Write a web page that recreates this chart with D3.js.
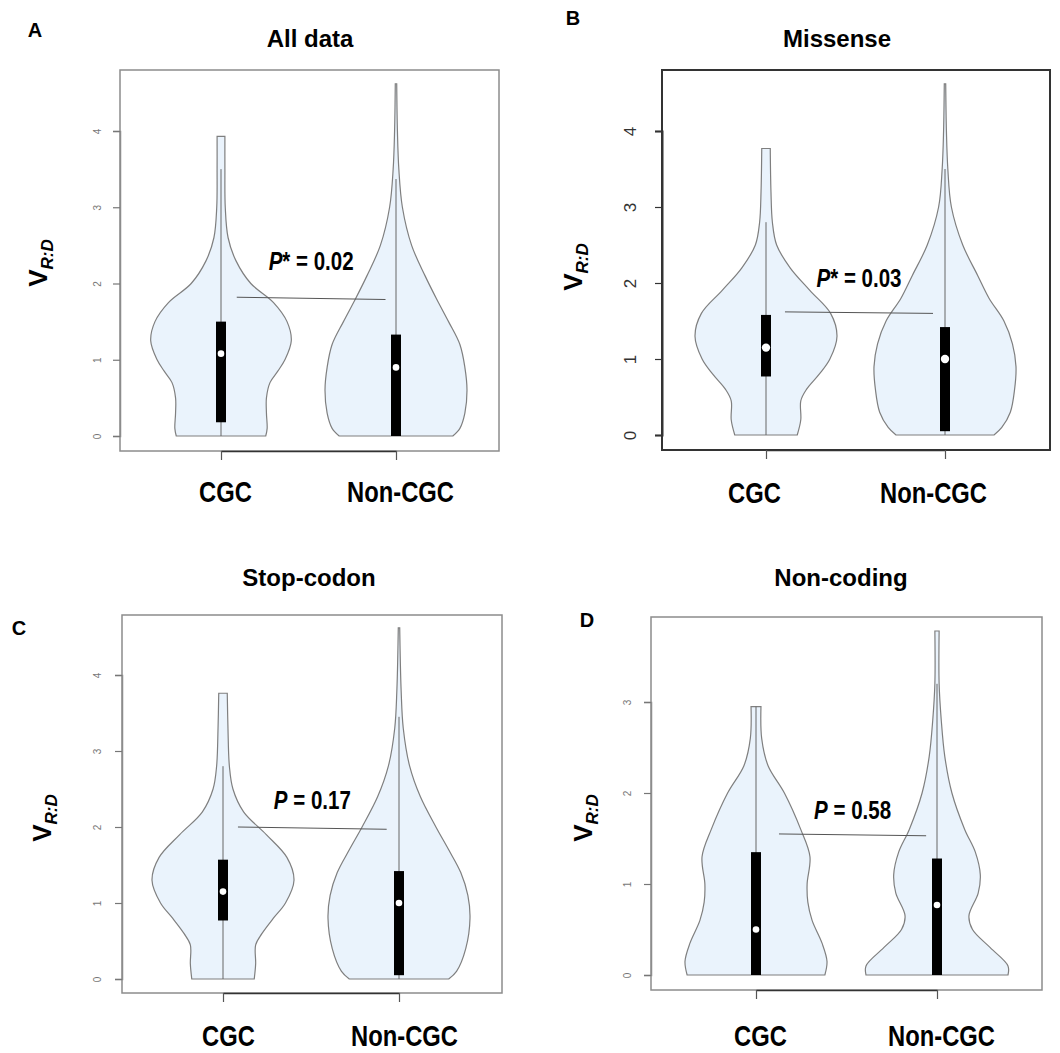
<!DOCTYPE html>
<html>
<head>
<meta charset="utf-8">
<title>VR:D violin plots</title>
<script src="https://d3js.org/d3.v7.min.js"></script>
<style>
    body { margin: 0; background: #fff; }
    text { font-family: "Liberation Sans", Arial, sans-serif; }
</style>
</head>
<body>
<script>
// ---- data ----
const categories = ["CGC", "Non-CGC"];
const panelTitles = ["All data", "Missense", "Stop-codon", "Non-coding"];
const panelLetters = ["A", "B", "C", "D"];
const pNames = ["P", "P", "P", "P"];
const pStars = ["*", "*", "", ""];
const pValues = ["0.02", "0.03", "0.17", "0.58"];

const yTicksA = [0, 1, 2, 3, 4];
const yTicksB = [0, 1, 2, 3, 4];
const yTicksC = [0, 1, 2, 3, 4];
const yTicksD = [0, 1, 2, 3];

// violin outlines: [value, relative half width]
const allCgc = [[0, 0.63], [0.1, 0.65], [0.3, 0.64], [0.5, 0.64], [0.7, 0.69], [0.85, 0.8], [1.0, 0.9], [1.25, 0.99],
    [1.5, 0.93], [1.75, 0.74], [2.0, 0.42], [2.3, 0.21], [2.6, 0.1], [3.0, 0.06], [3.5, 0.055], [3.93, 0.055]];
const allNon = [[0, 0.8], [0.1, 0.9], [0.3, 0.97], [0.6, 1.0], [0.9, 0.97], [1.2, 0.9], [1.5, 0.74], [1.8, 0.57],
    [2.1, 0.41], [2.5, 0.22], [3.0, 0.09], [3.5, 0.04], [4.0, 0.02], [4.62, 0.01]];
const misCgc = [[0, 0.44], [0.2, 0.49], [0.45, 0.49], [0.6, 0.57], [0.8, 0.75], [1.0, 0.9], [1.3, 1.0], [1.6, 0.91],
    [1.9, 0.62], [2.2, 0.34], [2.5, 0.15], [2.8, 0.09], [3.2, 0.07], [3.77, 0.06]];
const misNon = [[0, 0.69], [0.1, 0.8], [0.3, 0.92], [0.6, 0.98], [0.9, 1.0], [1.2, 0.95], [1.5, 0.83], [1.8, 0.62],
    [2.1, 0.46], [2.5, 0.25], [3.0, 0.09], [3.5, 0.04], [4.0, 0.02], [4.62, 0.01]];
const stopCgc = [[0, 0.44], [0.2, 0.46], [0.45, 0.46], [0.6, 0.55], [0.8, 0.71], [1.0, 0.88], [1.3, 1.0], [1.6, 0.9],
    [1.9, 0.61], [2.2, 0.29], [2.5, 0.14], [2.8, 0.09], [3.3, 0.07], [3.76, 0.06]];
const stopNon = [[0, 0.7], [0.1, 0.81], [0.4, 0.94], [0.8, 1.0], [1.1, 0.97], [1.4, 0.87], [1.7, 0.7], [2.0, 0.52],
    [2.4, 0.3], [2.8, 0.15], [3.3, 0.06], [3.8, 0.03], [4.62, 0.01]];
const ncCgc = [[0, 0.97], [0.15, 1.0], [0.35, 0.93], [0.6, 0.79], [0.8, 0.73], [1.0, 0.72], [1.3, 0.76], [1.6, 0.63],
    [2.0, 0.4], [2.3, 0.17], [2.6, 0.08], [2.95, 0.07]];
const ncNon = [[0, 1.0], [0.1, 1.0], [0.3, 0.75], [0.5, 0.5], [0.65, 0.45], [0.9, 0.58], [1.1, 0.61], [1.35, 0.54],
    [1.6, 0.39], [2.0, 0.21], [2.4, 0.11], [2.8, 0.06], [3.2, 0.03], [3.78, 0.03]];

// box stats: [whisker low, q1, median, q3, whisker high]
const allStats = [[0, 0.18, 1.08, 1.5, 3.5], [0, 0, 0.9, 1.33, 3.37]];
const misStats = [[0, 0.77, 1.15, 1.58, 2.8], [0, 0.05, 1.0, 1.42, 3.5]];
const stopStats = [[0, 0.77, 1.15, 1.57, 2.8], [0, 0.05, 1.0, 1.42, 3.45]];
const ncStats = [[0, 0, 0.5, 1.35, 2.95], [0, 0, 0.77, 1.28, 3.2]];

// comparison line heights (left end, right end)
const pLineA = [1.82, 1.79];
const pLineB = [1.62, 1.6];
const pLineC = [2.0, 1.97];
const pLineD = [1.55, 1.53];

// ---- layout ----
const squeeze = 0.82;   // the figure's bold labels are condensed

const panels = [
    { violins: [allCgc, allNon], stats: allStats, ticks: yTicksA, pLine: pLineA, pTextV: 2.3,
      box: [120, 70, 499, 451], zero: 436, top: 131, cx: [221, 396], title: [310, 38], letter: [35, 30],
      yLab: [38, 263], tickLabX: 97, catY: 492, catDx: 4, pX: [0.09, 0.94], frame: "#8c8c8c", frameW: 1.5,
      tickFont: 10, tickCol: "#777" },
    { violins: [misCgc, misNon], stats: misStats, ticks: yTicksB, pLine: pLineB, pTextV: 2.07,
      box: [662, 70, 1050, 450], zero: 435, top: 131, cx: [766, 945], title: [837, 38], letter: [573, 18],
      yLab: [573, 267], tickLabX: 630, catY: 493, catDx: -12, pX: [0.106, 0.933], frame: "#333", frameW: 2,
      tickFont: 17, tickCol: "#333" },
    { violins: [stopCgc, stopNon], stats: stopStats, ticks: yTicksC, pLine: pLineC, pTextV: 2.36,
      box: [122, 615, 502, 993], zero: 979, top: 675, cx: [223, 399], title: [309, 577], letter: [19, 628],
      yLab: [42, 818], tickLabX: 97, catY: 1036, catDx: 5, pX: [0.085, 0.93], frame: "#8c8c8c", frameW: 1.5,
      tickFont: 10, tickCol: "#777" },
    { violins: [ncCgc, ncNon], stats: ncStats, ticks: yTicksD, pLine: pLineD, pTextV: 1.81,
      box: [651, 617, 1042, 990], zero: 975, top: 702, cx: [756, 937], title: [841, 577], letter: [587, 620],
      yLab: [583, 818], tickLabX: 627, catY: 1036, catDx: 4, pX: [0.127, 0.94], frame: "#8c8c8c", frameW: 1.5,
      tickFont: 10, tickCol: "#777" }
];

const width = 1060;
const height = 1053;

const svg = d3.select("body")
    .append("svg")
    .attr("width", width)
    .attr("height", height);

panels.forEach((p, i) => {
    const g = svg.append("g");
    const [bl, bt, br, bb] = p.box;
    const topTick = p.ticks[p.ticks.length - 1];

    const yScale = d3.scaleLinear().domain([0, topTick]).range([p.zero, p.top]);
    const xScale = d3.scalePoint().domain(categories).range(p.cx);
    const wScale = d3.scaleLinear().domain([0, 1]).range([0, 71]);
    // fraction along the line joining the two categories
    const fScale = d3.scaleLinear().domain([0, 1]).range(p.cx);

    // frame
    g.append("rect")
        .attr("x", bl).attr("y", bt)
        .attr("width", br - bl).attr("height", bb - bt)
        .attr("fill", "none")
        .attr("stroke", p.frame)
        .attr("stroke-width", p.frameW);

    // violins
    categories.forEach((c, j) => {
        const cx = xScale(c);
        const area = d3.area()
            .curve(d3.curveCatmullRom.alpha(0.5))
            .y(d => yScale(d[0]))
            .x0(d => cx - wScale(d[1]))
            .x1(d => cx + wScale(d[1]));
        g.append("path")
            .datum(p.violins[j])
            .attr("d", area)
            .attr("fill", "#eaf3fc")
            .attr("stroke", "#7f7f7f")
            .attr("stroke-width", 1.2);

        const s = p.stats[j];
        // whisker
        g.append("line")
            .attr("x1", cx).attr("x2", cx)
            .attr("y1", yScale(s[0])).attr("y2", yScale(s[4]))
            .attr("stroke", "#666")
            .attr("stroke-width", 1);
        // box
        g.append("rect")
            .attr("x", cx - 5)
            .attr("y", yScale(s[3]))
            .attr("width", 10)
            .attr("height", yScale(s[1]) - yScale(s[3]))
            .attr("fill", "#000");
        // median
        g.append("circle")
            .attr("cx", cx)
            .attr("cy", yScale(s[2]))
            .attr("r", i === 1 ? 4.2 : 3.3)
            .attr("fill", "#fff");
    });

    // comparison line
    g.append("line")
        .attr("x1", fScale(p.pX[0])).attr("x2", fScale(p.pX[1]))
        .attr("y1", yScale(p.pLine[0])).attr("y2", yScale(p.pLine[1]))
        .attr("stroke", "#555")
        .attr("stroke-width", 1);

    const pt = g.append("text")
        .attr("transform", `translate(${fScale((p.pX[0] + p.pX[1]) / 2)},${yScale(p.pTextV)}) scale(${squeeze},1)`)
        .attr("dy", "0.36em")
        .attr("text-anchor", "middle")
        .attr("font-size", 25)
        .attr("font-weight", "bold")
        .attr("fill", "#000");
    pt.append("tspan").attr("font-style", "italic").text(pNames[i]);
    if (pStars[i]) pt.append("tspan").text(pStars[i]);
    pt.append("tspan").text(" = " + pValues[i]);

    // y axis
    const yAxis = g.append("g")
        .attr("transform", `translate(${bl},0)`)
        .call(d3.axisLeft(yScale).tickValues(p.ticks).tickSize(7).tickFormat(d3.format("d")));
    yAxis.select(".domain").attr("stroke", p.frame).attr("stroke-width", p.frameW);
    yAxis.selectAll(".tick line").attr("stroke", p.tickCol).attr("stroke-width", 1.2);
    yAxis.selectAll(".tick text")
        .attr("x", null).attr("dy", null)
        .attr("text-anchor", "middle")
        .attr("transform", `translate(${p.tickLabX - bl},0) rotate(-90)`)
        .attr("dy", "0.36em")
        .attr("font-size", p.tickFont)
        .attr("font-family", "'Liberation Sans', Arial, sans-serif")
        .attr("fill", p.tickCol);

    // x axis, category names below
    const xAxis = g.append("g")
        .attr("transform", `translate(0,${bb})`)
        .call(d3.axisBottom(xScale).tickSizeInner(9).tickSizeOuter(0));
    xAxis.select(".domain").attr("stroke", "#333").attr("stroke-width", 1.5);
    xAxis.selectAll(".tick line").attr("stroke", "#555").attr("stroke-width", 1.2);
    xAxis.selectAll(".tick text")
        .attr("x", null).attr("y", null).attr("dy", "0.36em")
        .attr("transform", `translate(${p.catDx},${p.catY - bb}) scale(${squeeze},1)`)
        .attr("font-size", 29)
        .attr("font-weight", "bold")
        .attr("font-family", "'Liberation Sans', Arial, sans-serif")
        .attr("fill", "#000");

    // title
    g.append("text")
        .attr("x", p.title[0]).attr("y", p.title[1])
        .attr("dy", "0.36em")
        .attr("text-anchor", "middle")
        .attr("font-size", 24)
        .attr("font-weight", "bold")
        .text(panelTitles[i]);

    // panel letter
    g.append("text")
        .attr("x", p.letter[0]).attr("y", p.letter[1])
        .attr("dy", "0.36em")
        .attr("text-anchor", "middle")
        .attr("font-size", 20)
        .attr("font-weight", "bold")
        .text(panelLetters[i]);

    // y label V_R:D
    const yl = g.append("text")
        .attr("transform", `translate(${p.yLab[0]},${p.yLab[1]}) rotate(-90)`)
        .attr("dy", "0.36em")
        .attr("text-anchor", "middle")
        .attr("font-weight", "bold")
        .attr("font-size", 26);
    yl.append("tspan").text("V");
    yl.append("tspan")
        .attr("font-size", 17)
        .attr("font-style", "italic")
        .attr("dy", 6)
        .text("R:D");
});
</script>
</body>
</html>
